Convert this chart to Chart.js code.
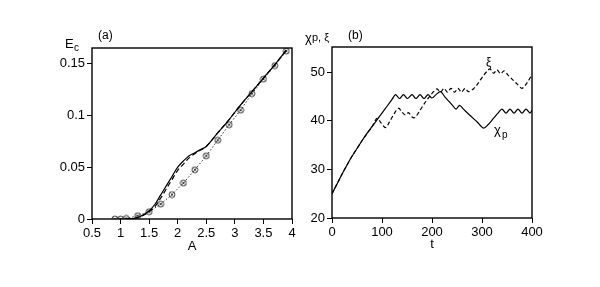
<!DOCTYPE html>
<html>
<head>
<meta charset="utf-8">
<script src="https://cdn.jsdelivr.net/npm/chart.js@4"></script>
<style>
  html, body { margin: 0; padding: 0; background: #fff; }
  #wrap { position: relative; width: 600px; height: 287px; }
  canvas { position: absolute; top: 0; }
  #chartA { left: 0; }
  #chartB { left: 300px; }
</style>
</head>
<body>
<div id="wrap">
  <canvas id="chartA" width="300" height="287" style="width:300px;height:287px"></canvas>
  <canvas id="chartB" width="300" height="287" style="width:300px;height:287px"></canvas>
</div>
<script>
// ---- panel (a): Ec vs A ----
const curveA = [1.1, 1.2, 1.3, 1.4, 1.5, 1.6, 1.7, 1.8, 1.9, 2.0, 2.1, 2.2, 2.3, 2.4, 2.5, 2.7, 2.9, 3.1, 3.3, 3.5, 3.7, 3.9];
const ecSolid = [0, 0.0003, 0.0015, 0.004, 0.008, 0.014, 0.023, 0.032, 0.041, 0.050, 0.056, 0.061, 0.064, 0.067, 0.070, 0.083, 0.096, 0.110, 0.123, 0.136, 0.149, 0.163];
const ecDashed = [0, 0.0003, 0.0015, 0.0037, 0.007, 0.012, 0.020, 0.029, 0.038, 0.047, 0.053, 0.059, 0.063, 0.0665, 0.070, 0.083, 0.096, 0.110, 0.123, 0.136, 0.149, 0.163];
const circleA = [0.9, 1.0, 1.1, 1.3, 1.5, 1.7, 1.9, 2.1, 2.3, 2.5, 2.7, 2.9, 3.1, 3.3, 3.5, 3.7, 3.9];
const ecCircle = [0, 0, 0.0005, 0.0032, 0.007, 0.0143, 0.0236, 0.0347, 0.0475, 0.061, 0.076, 0.091, 0.105, 0.121, 0.135, 0.148, 0.162];
const xTicksA = [0.5, 1, 1.5, 2, 2.5, 3, 3.5, 4];
const yTicksA = [0, 0.05, 0.1, 0.15];

// ---- panel (b): chi_p and xi vs t ----
const tChi = [0, 10, 20, 30, 40, 50, 60, 70, 80, 90, 100, 110, 120, 127, 135, 143, 151, 160, 168, 176, 184, 192, 200, 208, 217, 226, 234, 241, 248, 255, 263, 275, 290, 303, 312, 322, 332, 340, 348, 356, 364, 372, 380, 388, 396, 400];
const chiP = [25, 27, 29, 30.9, 32.7, 34.3, 35.9, 37.4, 38.8, 40.2, 41.6, 43, 44.4, 45.4, 44.6, 45.4, 44.6, 45.4, 44.6, 45.4, 44.6, 45.4, 44.7, 45.4, 46.0, 44.9, 44.0, 43.2, 42.4, 43.2, 42.4, 41.2, 39.8, 38.5, 39.2, 40.4, 41.6, 42.4, 41.6, 42.4, 41.6, 42.4, 41.6, 42.4, 41.6, 42.2];
const tXi = [0, 10, 20, 30, 40, 50, 60, 70, 80, 90, 98, 107, 115, 124, 133, 140, 147, 153, 160, 166, 175, 185, 195, 203, 210, 217, 224, 231, 238, 245, 252, 259, 266, 273, 283, 292, 302, 310, 316, 323, 330, 337, 344, 352, 360, 370, 380, 390, 400];
const xi = [25, 27, 29, 30.9, 32.7, 34.3, 35.9, 37.4, 38.8, 40.5, 39.6, 38.6, 39.8, 41.4, 42.6, 41.8, 41.2, 41.7, 40.8, 40.7, 42.0, 43.6, 45.0, 46.0, 46.6, 45.9, 46.7, 45.9, 46.7, 45.9, 46.7, 45.9, 46.7, 46.0, 46.6, 47.7, 49.2, 50.2, 50.7, 49.8, 50.5, 49.7, 50.3, 49.4, 48.6, 47.6, 46.7, 47.8, 49.5];
const xTicksB = [0, 100, 200, 300, 400];
const yTicksB = [20, 30, 40, 50];

const FONT = "'Liberation Sans', Arial, sans-serif";
Chart.defaults.font.family = FONT;
Chart.defaults.font.size = 13;
Chart.defaults.color = '#000';

function pts(xs, ys) {
  return xs.map((x, i) => ({ x: x, y: ys[i] }));
}

// small circle marker with a cross inside
function makeMarker() {
  const c = document.createElement('canvas');
  c.width = 8; c.height = 8;
  const g = c.getContext('2d');
  g.strokeStyle = '#333';
  g.lineWidth = 0.9;
  g.beginPath(); g.arc(4, 4, 3, 0, Math.PI * 2); g.stroke();
  g.beginPath();
  g.moveTo(2.5, 2.5); g.lineTo(5.5, 5.5);
  g.moveTo(5.5, 2.5); g.lineTo(2.5, 5.5);
  g.stroke();
  return c;
}

function axis(min, max, ticks, pos, size) {
  return {
    type: 'linear',
    position: pos,
    min: min,
    max: max,
    afterBuildTicks: (s) => { s.ticks = ticks.map(v => ({ value: v })); },
    afterFit: (s) => { if (pos === 'left') s.width = size; else s.height = size; },
    grid: { drawOnChartArea: false, drawTicks: true, tickLength: 5, color: '#000', lineWidth: 1 },
    border: { display: false },
    ticks: { padding: 2, color: '#000', font: { size: 13 }, callback: (v) => String(v), maxRotation: 0, autoSkip: false }
  };
}

// frame + text labels
function overlay(id, draw) {
  return {
    id: id,
    afterDraw(chart) {
      const ctx = chart.ctx;
      const a = chart.chartArea;
      ctx.save();
      ctx.strokeStyle = '#000';
      ctx.lineWidth = 1.4;
      ctx.strokeRect(a.left, a.top, a.right - a.left, a.bottom - a.top);
      ctx.fillStyle = '#000';
      ctx.textBaseline = 'middle';
      draw(ctx, a);
      ctx.restore();
    }
  };
}

function txt(ctx, s, x, y, size, align) {
  ctx.font = size + 'px ' + FONT;
  ctx.textAlign = align || 'left';
  ctx.fillText(s, x, y);
}

const lineBase = { borderColor: '#000', backgroundColor: '#000', pointRadius: 0, borderWidth: 1.2, fill: false };

new Chart(document.getElementById('chartA'), {
  type: 'line',
  data: {
    datasets: [
      Object.assign({}, lineBase, { data: pts(curveA, ecSolid), tension: 0.35 }),
      Object.assign({}, lineBase, { data: pts(curveA, ecDashed), borderDash: [5, 3], tension: 0.35 }),
      Object.assign({}, lineBase, {
        data: pts(circleA, ecCircle), borderDash: [1.5, 2], borderWidth: 1, borderColor: '#333',
        pointStyle: makeMarker(), pointRadius: 4
      })
    ]
  },
  options: {
    responsive: false,
    animation: false,
    layout: { padding: { left: 0, top: 48, right: 8, bottom: 0 } },
    plugins: { legend: { display: false }, tooltip: { enabled: false } },
    scales: {
      x: axis(0.5, 4, xTicksA, 'bottom', 68),
      y: axis(0, 0.165, yTicksA, 'left', 92)
    }
  },
  plugins: [overlay('frameA', (ctx, a) => {
    txt(ctx, '(a)', 98, 36, 12);
    txt(ctx, 'E', 65, 44, 13);
    txt(ctx, 'c', 74, 48, 10);
    txt(ctx, 'A', (a.left + a.right) / 2, 246, 13, 'center');
  })]
});

new Chart(document.getElementById('chartB'), {
  type: 'line',
  data: {
    datasets: [
      Object.assign({}, lineBase, { data: pts(tChi, chiP), tension: 0.3 }),
      Object.assign({}, lineBase, { data: pts(tXi, xi), borderDash: [4, 2.5], tension: 0.3 })
    ]
  },
  options: {
    responsive: false,
    animation: false,
    layout: { padding: { left: 0, top: 47, right: 68, bottom: 0 } },
    plugins: { legend: { display: false }, tooltip: { enabled: false } },
    scales: {
      x: axis(0, 400, xTicksB, 'bottom', 69),
      y: axis(20, 55.2, yTicksB, 'left', 32)
    }
  },
  plugins: [overlay('frameB', (ctx, a) => {
    txt(ctx, '\u03c7', 5, 38, 13);
    txt(ctx, 'p, \u03be', 12, 38, 11);
    txt(ctx, '(b)', 48, 36, 12);
    txt(ctx, 't', (a.left + a.right) / 2, 244, 13, 'center');
    txt(ctx, '\u03be', 186, 63, 12);
    txt(ctx, '\u03c7', 194, 130, 13);
    txt(ctx, 'p', 202, 135, 10);
  })]
});
</script>
</body>
</html>
